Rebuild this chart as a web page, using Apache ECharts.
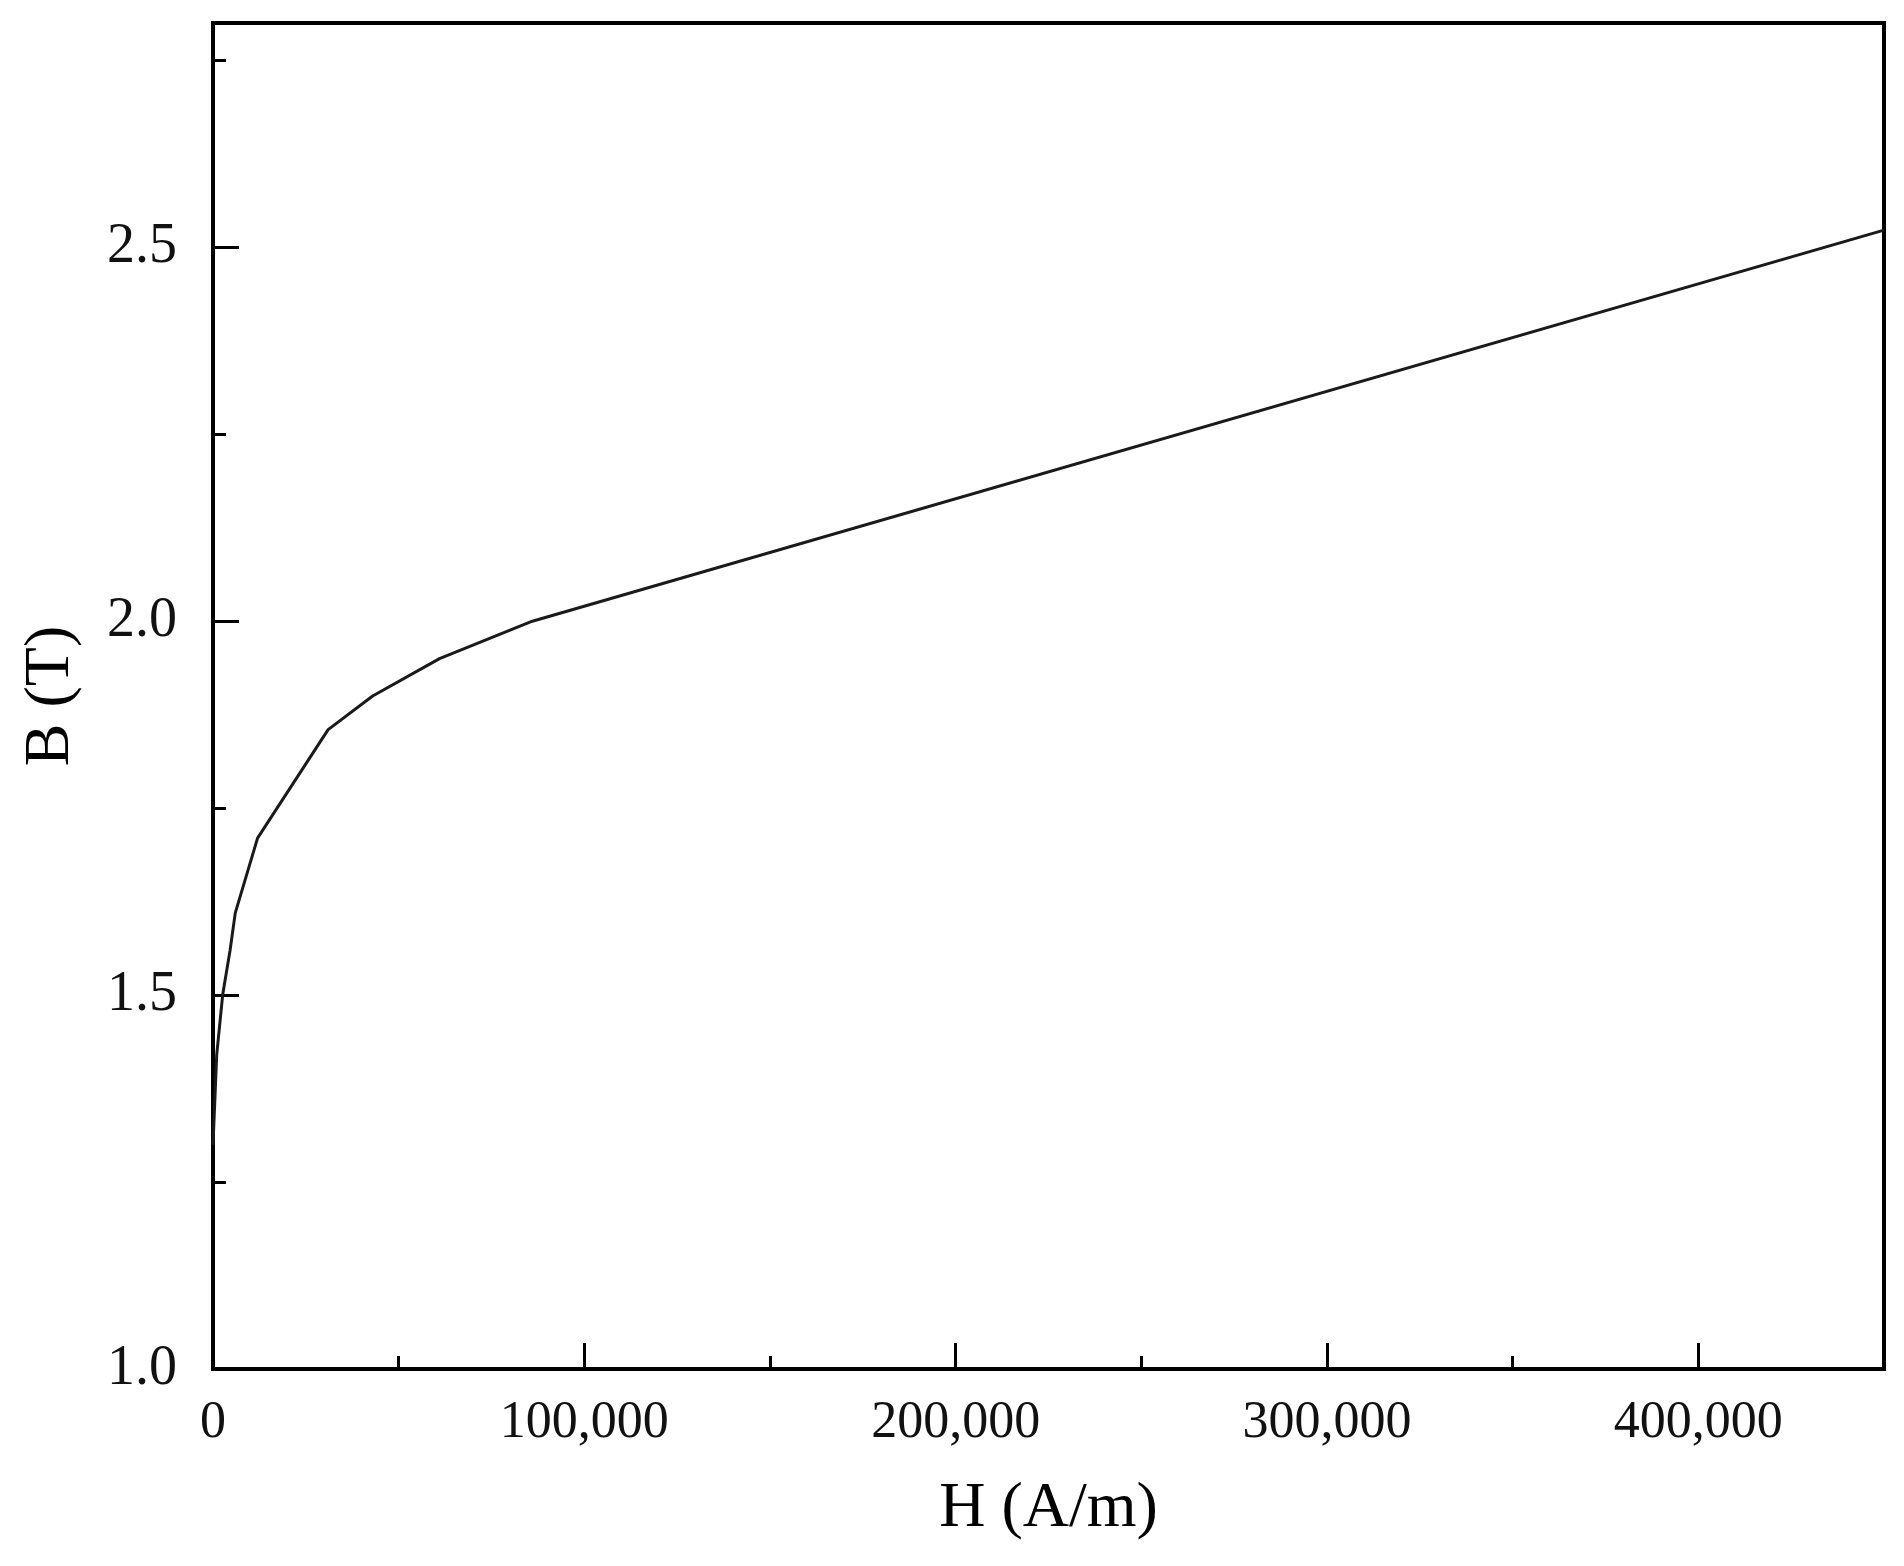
<!DOCTYPE html>
<html>
<head>
<meta charset="utf-8">
<title>B-H curve</title>
<script src="https://cdn.jsdelivr.net/npm/echarts@6/dist/echarts.min.js"></script>
<style>
  html, body { margin: 0; padding: 0; background: #fff; }
  #chart { width: 1904px; height: 1566px; }
</style>
</head>
<body>
<div id="chart"></div>
<script>
// 磁化曲线数据 (H in A/m, B in T)
var hValues = [0, 1000, 2600, 4600, 6000, 12000, 31000, 43000, 61000, 86000, 450000];
var bValues = [1.30, 1.42, 1.50, 1.56, 1.61, 1.71, 1.855, 1.90, 1.95, 2.00, 2.523];

var xMin = 0, xMax = 450000, xMajor = 100000, xMinor = 50000;
var yMin = 1.0, yMax = 2.8, yMajor = 0.5, yMinor = 0.25;

;(function () {
  var myChart = echarts.init(document.getElementById('chart'));

  var points = [];
  for (var i = 0; i < hValues.length; i++) {
    points.push([hValues[i], bValues[i]]);
  }

  var serif = '"Liberation Serif", "Noto Sans CJK SC", serif';

  var option = {
    animation: false,
    backgroundColor: '#fff',
    grid: {
      left: 213, top: 23, width: 1671, height: 1346,
      show: true, borderColor: '#000', borderWidth: 4
    },
    xAxis: [
      {
        // 次刻度
        type: 'value', position: 'bottom',
        min: xMin, max: xMax, interval: xMinor,
        axisLine: { show: false },
        axisTick: { show: true, inside: true, length: 13, lineStyle: { color: '#000', width: 3 } },
        axisLabel: { show: false },
        splitLine: { show: false }
      },
      {
        type: 'value', position: 'bottom',
        min: xMin, max: xMax, interval: xMajor,
        name: 'H (A/m)', nameLocation: 'middle', nameGap: 108,
        nameTextStyle: { fontFamily: serif, fontSize: 64, color: '#000' },
        axisLine: { show: true, lineStyle: { color: '#000', width: 4 } },
        axisTick: { show: true, inside: true, length: 26, lineStyle: { color: '#000', width: 3 } },
        axisLabel: {
          show: true, margin: 28, showMaxLabel: false,
          fontFamily: serif, fontSize: 52, color: '#111',
          formatter: function (v) { return v.toLocaleString('en-US'); }
        },
        splitLine: { show: false }
      }
    ],
    yAxis: [
      {
        type: 'value', position: 'left',
        min: yMin, max: yMax, interval: yMinor,
        axisLine: { show: false },
        axisTick: { show: true, inside: true, length: 13, lineStyle: { color: '#000', width: 3 } },
        axisLabel: { show: false },
        splitLine: { show: false }
      },
      {
        type: 'value', position: 'left',
        min: yMin, max: yMax, interval: yMajor,
        name: 'B (T)', nameLocation: 'middle', nameGap: 130,
        nameTextStyle: { fontFamily: serif, fontSize: 64, color: '#000' },
        axisLine: { show: true, lineStyle: { color: '#000', width: 4 } },
        axisTick: { show: true, inside: true, length: 26, lineStyle: { color: '#000', width: 3 } },
        axisLabel: {
          show: true, margin: 36, showMaxLabel: false,
          fontFamily: serif, fontSize: 56, color: '#111',
          formatter: function (v) { return v.toFixed(1); }
        },
        splitLine: { show: false }
      }
    ],
    series: [{
      type: 'line',
      xAxisIndex: 1,
      yAxisIndex: 1,
      data: points,
      showSymbol: false,
      smooth: false,
      lineStyle: { color: '#1a1a1a', width: 3 }
    }]
  };

  myChart.setOption(option);
})();
</script>
</body>
</html>
